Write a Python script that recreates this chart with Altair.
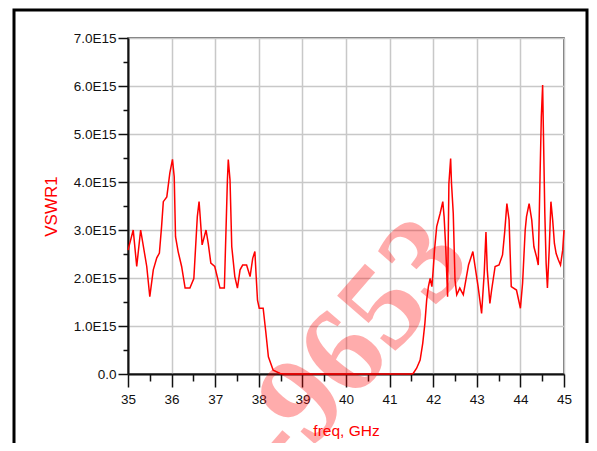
import altair as alt
import pandas as pd

# frequency (GHz) and VSWR1 values (in units of 1E15)
freq = [35.0, 35.12, 35.2, 35.29, 35.43, 35.5, 35.58, 35.66, 35.72, 35.77, 35.81, 35.89,
        35.96, 36.02, 36.06, 36.09, 36.15, 36.23, 36.31, 36.42, 36.51, 36.59, 36.63, 36.65,
        36.70, 36.79, 36.84, 36.90, 36.99, 37.11, 37.21, 37.25, 37.28, 37.30, 37.34, 37.38,
        37.45, 37.51, 37.57, 37.63, 37.72, 37.80, 37.86, 37.91, 37.94, 37.97, 38.01, 38.10,
        38.16, 38.22, 38.33, 38.49, 38.6, 41.5, 41.54, 41.62, 41.70, 41.76, 41.81, 41.85,
        41.89, 41.93, 41.97, 42.00, 42.03, 42.08, 42.16, 42.22, 42.25, 42.29, 42.33, 42.36,
        42.40, 42.42, 42.46, 42.50, 42.54, 42.61, 42.69, 42.75, 42.81, 42.91, 42.96, 43.03,
        43.11, 43.17, 43.21, 43.24, 43.30, 43.34, 43.42, 43.51, 43.59, 43.64, 43.69, 43.74,
        43.79, 43.91, 44.0, 44.05, 44.11, 44.14, 44.20, 44.26, 44.31, 44.37, 44.41, 44.45,
        44.48, 44.51, 44.52, 44.56, 44.59, 44.62, 44.66, 44.70, 44.74, 44.78, 44.82, 44.87,
        44.92, 44.97, 45.0]
vswr_e15 = [2.58, 3.0, 2.24, 3.0, 2.24, 1.61, 2.17, 2.42, 2.52, 3.07, 3.59, 3.69,
            4.19, 4.47, 4.11, 2.86, 2.55, 2.24, 1.79, 1.79, 1.99, 3.28, 3.59, 3.35,
            2.69, 3.0, 2.72, 2.31, 2.24, 1.79, 1.79, 3.07, 4.04, 4.47, 4.04, 2.65,
            2.03, 1.79, 2.17, 2.27, 2.27, 2.03, 2.41, 2.55, 2.03, 1.54, 1.37, 1.37,
            0.88, 0.36, 0.08, 0.01, 0.0, 0.0, 0.01, 0.12, 0.29, 0.64, 1.06, 1.54,
            1.82, 1.99, 1.82, 2.17, 2.58, 3.07, 3.35, 3.59, 3.28, 2.58, 1.61, 3.97,
            4.49, 3.97, 3.35, 1.96, 1.65, 1.79, 1.65, 1.96, 2.27, 2.55, 2.24, 1.82,
            1.26, 2.10, 2.96, 2.17, 1.47, 1.75, 2.24, 2.27, 2.48, 2.96, 3.55, 3.21,
            1.82, 1.75, 1.37, 1.89, 3.0, 3.28, 3.55, 3.21, 2.65, 2.44, 2.27, 4.11,
            5.36, 6.02, 5.46, 3.35, 2.31, 1.79, 2.58, 3.59, 3.21, 2.72, 2.51, 2.38,
            2.27, 2.58, 3.0]

x_ticks = [35 + 0.5 * i for i in range(21)]
y_ticks = [0.5 * i for i in range(15)]
x_title = "freq, GHz"
y_title = "VSWR1"
watermark = "-9653"

df = pd.DataFrame({"freq": freq, "vswr": vswr_e15})

FONT = "Liberation Sans"

x_axis = alt.Axis(
    values=x_ticks,
    labelExpr="datum.value % 1 === 0 ? format(datum.value, 'd') : ''",
    tickSize={"condition": {"test": "datum.value % 1 === 0", "value": 13}, "value": 7},
    gridOpacity={"condition": {"test": "datum.value % 1 === 0", "value": 1}, "value": 0},
    labelOverlap=False, labelFlush=False,
    labelFont=FONT, labelFontSize=13.5, labelColor="#111", labelPadding=5,
    title=x_title, titleColor="#ff0000", titleFont=FONT, titleFontSize=15.5,
    titleFontWeight="normal", titlePadding=18,
    domainColor="#111", domainWidth=2, tickColor="#111", tickWidth=1.5,
    gridColor="#c8c8c8", gridWidth=1.5,
)
y_axis = alt.Axis(
    values=y_ticks,
    labelExpr="datum.value % 1 === 0 ? (datum.value === 0 ? '0.0' : format(datum.value, '.1f') + 'E15') : ''",
    tickSize={"condition": {"test": "datum.value % 1 === 0", "value": 10}, "value": 5},
    gridOpacity={"condition": {"test": "datum.value % 1 === 0", "value": 1}, "value": 0},
    labelOverlap=False, labelFlush=False,
    labelFont=FONT, labelFontSize=13.5, labelColor="#111", labelPadding=2,
    title=y_title, titleColor="#ff0000", titleFont=FONT, titleFontSize=17,
    titleFontWeight="normal", titlePadding=13,
    domainColor="#111", domainWidth=2, tickColor="#111", tickWidth=1.5,
    gridColor="#c8c8c8", gridWidth=1.5,
)

line = alt.Chart(df).mark_line(color="#ff0000", strokeWidth=1.5).encode(
    x=alt.X("freq:Q", scale=alt.Scale(domain=[35, 45], nice=False), axis=x_axis),
    y=alt.Y("vswr:Q", scale=alt.Scale(domain=[0, 7], nice=False), axis=y_axis),
)

one = pd.DataFrame({"a": [0]})
frame = alt.Chart(one).mark_rect(fill="transparent", stroke="#000", strokeWidth=3).encode(
    x=alt.value(-114), x2=alt.value(459), y=alt.value(-28), y2=alt.value(430)
)
wm = alt.Chart(one).mark_text(
    text=watermark, angle=311, font="Liberation Serif", fontSize=124, fontWeight="bold",
    color="#ff0000", opacity=0.32, align="right", baseline="middle"
).encode(x=alt.value(318), y=alt.value(200))

chart = alt.layer(line, wm, frame).properties(
    width=436, height=336,
    autosize=alt.AutoSizeParams(type="none"),
    padding={"left": 120, "top": 30, "right": 25, "bottom": 69},
    background="white",
).configure_view(stroke="#444", strokeWidth=1.5)

chart.save("out.html", embed_options={"renderer": "svg", "actions": False})
